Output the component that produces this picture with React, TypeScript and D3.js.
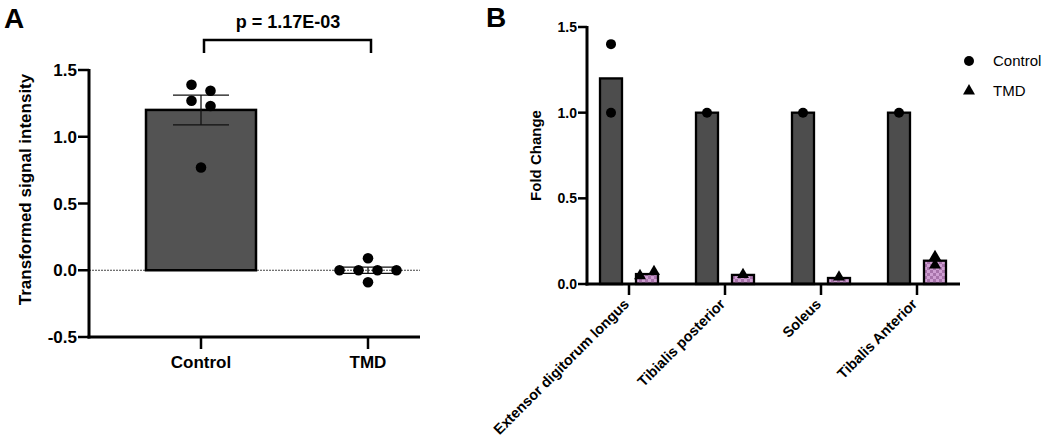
import React from "react";
import * as d3 from "d3";

// ---------- Data ----------
const groupsA = ["Control", "TMD"];
const controlValuesA = [1.39, 1.345, 1.27, 1.23, 0.77];
const tmdValuesA = [0.09, 0.0, 0.0, 0.0, 0.0, -0.09];
const yTicksA = [-0.5, 0.0, 0.5, 1.0, 1.5];
const pValueLabel = "p = 1.17E-03";

const musclesB = ["Extensor digitorum longus", "Tibialis posterior", "Soleus", "Tibalis Anterior"];
const controlPointsB = [[1.4, 1.0], [1.0], [1.0], [1.0]];
const tmdPointsB = [[0.048, 0.072], [0.055], [0.04], [0.16, 0.11]];
const controlMeansB = [1.2, 1.0, 1.0, 1.0];
const tmdMeansB = [0.058, 0.053, 0.035, 0.136];
const yTicksB = [0.0, 0.5, 1.0, 1.5];
const legendB = ["Control", "TMD"];

const FONT = "Arial, 'Liberation Sans', Helvetica, sans-serif";

function mean(a: number[]) { return d3.mean(a) as number; }
function sem(a: number[]) { return (d3.deviation(a) as number) / Math.sqrt(a.length); }

// simple row-based beeswarm: points close vertically are put side by side
function swarm(values: number[], y: (v: number) => number, thresh: number, spacing: number, highFirst = true) {
  const idx = values.map((v, i) => i).sort((a, b) => values[b] - values[a]);
  const offsets = new Array(values.length).fill(0);
  let row: number[] = [];
  const flush = () => {
    const r = highFirst ? row : row.slice().reverse();
    r.forEach((id, k) => { offsets[id] = (k - (r.length - 1) / 2) * spacing; });
    row = [];
  };
  idx.forEach((id) => {
    if (row.length && Math.abs(y(values[id]) - y(values[row[0]])) > thresh) flush();
    row.push(id);
  });
  flush();
  return offsets;
}

const tri = d3.symbol().type(d3.symbolTriangle).size(62);

export default function App() {
  // ---- Panel A ----
  const axA = { left: 89, right: 420, top: 70, bottom: 337 };
  const yA = d3.scaleLinear().domain([-0.5, 1.5]).range([axA.bottom, axA.top]);
  const xA = d3.scalePoint().domain(groupsA).range([201, 368]);
  const dataA = [controlValuesA, tmdValuesA];
  const barWA = 110;

  // ---- Panel B ----
  const axB = { left: 587, right: 960, top: 27, bottom: 284 };
  const yB = d3.scaleLinear().domain([0, 1.5]).range([axB.bottom, axB.top]);
  const xB = d3.scalePoint().domain(musclesB).range([629, 917]);
  const barWB = 22;
  const off = 18;

  return (
    <svg width={1050} height={446} style={{ position: "absolute", left: 0, top: 0, background: "#fff" }} fontFamily={FONT}>
      <defs>
        <pattern id="checker" width={6} height={6} patternUnits="userSpaceOnUse">
          <rect width={6} height={6} fill="#cf9fd2" />
          <rect width={3} height={3} fill="#a874ab" />
          <rect x={3} y={3} width={3} height={3} fill="#a874ab" />
        </pattern>
      </defs>

      {/* Panel letters */}
      <text x={4} y={28} fontSize={28} fontWeight="bold">A</text>
      <text x={486} y={27} fontSize={28} fontWeight="bold">B</text>

      {/* ---------- Panel A ---------- */}
      <line x1={axA.left} x2={axA.right} y1={yA(0)} y2={yA(0)} stroke="#444" strokeWidth={1} strokeDasharray="2,1" />
      {dataA.map((vals, gi) => {
        const cx = xA(groupsA[gi]) as number;
        const m = mean(vals);
        const s = sem(vals);
        const offs = swarm(vals, yA, 11, 19);
        const y0 = yA(0), ym = yA(m);
        return (
          <g key={gi}>
            <rect x={cx - barWA / 2} y={Math.min(y0, ym)} width={barWA} height={Math.abs(y0 - ym)}
              fill={gi === 0 ? "#535353" : "none"} stroke="#000" strokeWidth={gi === 0 ? 2.5 : 1} />
            <line x1={cx} x2={cx} y1={yA(m + s)} y2={yA(m - s)} stroke="#111" strokeWidth={1.3} />
            <line x1={cx - 28} x2={cx + 28} y1={yA(m + s)} y2={yA(m + s)} stroke="#111" strokeWidth={1.3} />
            <line x1={cx - 28} x2={cx + 28} y1={yA(m - s)} y2={yA(m - s)} stroke="#111" strokeWidth={1.3} />
            {vals.map((v, i) => (
              <circle key={i} cx={cx + offs[i]} cy={yA(v)} r={5.3} fill="#000" />
            ))}
          </g>
        );
      })}
      <line x1={axA.left} x2={axA.left} y1={axA.top - 1} y2={axA.bottom + 1.5} stroke="#000" strokeWidth={3} />
      <line x1={axA.left - 1.5} x2={axA.right} y1={axA.bottom} y2={axA.bottom} stroke="#000" strokeWidth={3} />
      {yTicksA.map((t) => (
        <g key={t}>
          <line x1={axA.left - 11} x2={axA.left} y1={yA(t)} y2={yA(t)} stroke="#000" strokeWidth={2.5} />
          <text x={axA.left - 12} y={yA(t)} dy="0.36em" textAnchor="end" fontSize={17} fontWeight="bold">
            {t.toFixed(1)}
          </text>
        </g>
      ))}
      {groupsA.map((g) => (
        <g key={g}>
          <line x1={xA(g) as number} x2={xA(g) as number} y1={axA.bottom} y2={axA.bottom + 12} stroke="#000" strokeWidth={2.5} />
          <text x={xA(g) as number} y={368} textAnchor="middle" fontSize={17} fontWeight="bold">{g}</text>
        </g>
      ))}
      <text transform={`translate(31,${(axA.top + axA.bottom) / 2 - 14}) rotate(-90)`} textAnchor="middle" fontSize={17} fontWeight="bold">
        Transformed signal intensity
      </text>
      <path d={`M${(xA("Control") as number) + 3},53 V40 H${(xA("TMD") as number) + 3} V53`} fill="none" stroke="#000" strokeWidth={2.5} />
      <text x={288} y={28} textAnchor="middle" fontSize={18} fontWeight="bold">{pValueLabel}</text>

      {/* ---------- Panel B ---------- */}
      {musclesB.map((mName, i) => {
        const cx = xB(mName) as number;
        const xc = cx - off, xt = cx + off;
        const offC = swarm(controlPointsB[i], yB, 6, 14, false);
        const offT = swarm(tmdPointsB[i], yB, 6, 14, false);
        return (
          <g key={mName}>
            <rect x={xc - barWB / 2} y={yB(controlMeansB[i])} width={barWB} height={yB(0) - yB(controlMeansB[i])}
              fill="#4d4d4d" stroke="#000" strokeWidth={2.3} />
            <rect x={xt - barWB / 2} y={yB(tmdMeansB[i])} width={barWB} height={yB(0) - yB(tmdMeansB[i])}
              fill="url(#checker)" stroke="#000" strokeWidth={2.3} />
            {controlPointsB[i].map((v, k) => (
              <circle key={k} cx={xc + offC[k]} cy={yB(v)} r={5} fill="#000" />
            ))}
            {tmdPointsB[i].map((v, k) => (
              <path key={k} d={tri() as string} transform={`translate(${xt + offT[k]},${yB(v)})`} fill="#000" />
            ))}
          </g>
        );
      })}
      <line x1={axB.left} x2={axB.left} y1={axB.top - 1} y2={axB.bottom + 1.5} stroke="#000" strokeWidth={3} />
      <line x1={axB.left - 1.5} x2={axB.right} y1={axB.bottom} y2={axB.bottom} stroke="#000" strokeWidth={3} />
      {yTicksB.map((t) => (
        <g key={t}>
          <line x1={axB.left - 9} x2={axB.left} y1={yB(t)} y2={yB(t)} stroke="#000" strokeWidth={2.5} />
          <text x={axB.left - 10} y={yB(t)} dy="0.36em" textAnchor="end" fontSize={14} fontWeight="bold">
            {t.toFixed(1)}
          </text>
        </g>
      ))}
      {musclesB.map((mName) => {
        const x = xB(mName) as number;
        return (
          <g key={mName}>
            <line x1={x} x2={x} y1={axB.bottom} y2={axB.bottom + 11} stroke="#000" strokeWidth={2.5} />
            <text transform={`translate(${x + 1},${axB.bottom + 21}) rotate(-45)`} textAnchor="end" fontSize={14.5} fontWeight="bold">
              {mName}
            </text>
          </g>
        );
      })}
      <text transform={`translate(541,${(axB.top + axB.bottom) / 2}) rotate(-90)`} textAnchor="middle" fontSize={15} fontWeight="bold">
        Fold Change
      </text>
      {legendB.map((l, i) => (
        <g key={l} transform={`translate(969,${61 + i * 30})`}>
          {i === 0 ? <circle r={5} fill="#000" /> : <path d={tri() as string} fill="#000" />}
          <text x={24} y={0} dy="0.36em" fontSize={15}>{l}</text>
        </g>
      ))}
    </svg>
  );
}
